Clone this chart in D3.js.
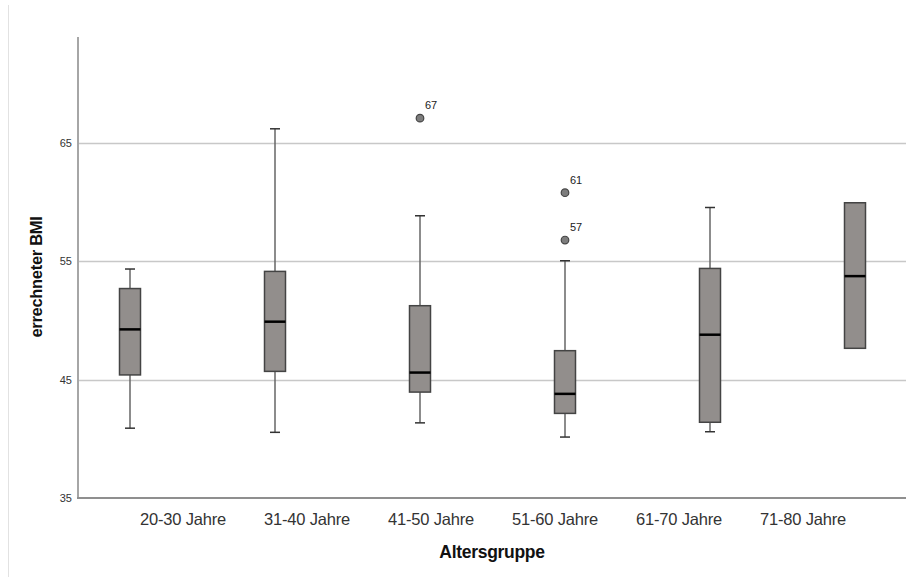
<!DOCTYPE html>
<html>
<head>
<meta charset="utf-8">
<script src="https://cdn.jsdelivr.net/npm/d3@7"></script>
<style>
  html, body { margin: 0; padding: 0; background: #fff; }
  text { font-family: "Liberation Sans", Arial, sans-serif; }
</style>
</head>
<body>
<svg id="chart" width="906" height="577"></svg>
<script>
// ---- data ----
const categories = ["20-30 Jahre", "31-40 Jahre", "41-50 Jahre", "51-60 Jahre", "61-70 Jahre", "71-80 Jahre"];
const whiskerLow  = [40.9, 40.55, 41.35, 40.15, 40.6, 47.65];
const q1          = [45.4, 45.7, 43.95, 42.15, 41.4, 47.65];
const medians     = [49.25, 49.9, 45.6, 43.8, 48.8, 53.75];
const q3          = [52.7, 54.15, 51.25, 47.45, 54.4, 59.95];
const whiskerHigh = [54.35, 66.2, 58.85, 55.05, 59.55, 59.95];
const outlierGroup = ["41-50 Jahre", "51-60 Jahre", "51-60 Jahre"];
const outlierValue = [67.1, 60.8, 56.8];
const outlierLabel = ["67", "61", "57"];
const yTicks = [35, 45, 55, 65];
const yTitle = "errechneter BMI";
const xTitle = "Altersgruppe";

// ---- layout ----
const svg = d3.select("#chart");
const axisLeft = 78, axisRight = 906, axisBottom = 498, axisTop = 37;

const y = d3.scaleLinear().domain([35, 65]).range([498, 143]);
const xBox = d3.scalePoint().domain(categories).range([130, 855]);
const xLab = d3.scalePoint().domain(categories).range([183, 803]);
const boxW = 21, capW = 10;

// left frame border
svg.append("line").attr("x1", 8.5).attr("x2", 8.5).attr("y1", 5).attr("y2", 577)
  .attr("stroke", "#e2e2e2").attr("stroke-width", 1);

// gridlines
svg.append("g").selectAll("line").data(yTicks.filter(d => d > 35)).join("line")
  .attr("x1", axisLeft).attr("x2", axisRight)
  .attr("y1", d => Math.round(y(d)) + 0.5).attr("y2", d => Math.round(y(d)) + 0.5)
  .attr("stroke", "#c8c8c8").attr("stroke-width", 1.5);

// y axis line
svg.append("line").attr("x1", axisLeft).attr("x2", axisLeft).attr("y1", axisTop).attr("y2", axisBottom + 1)
  .attr("stroke", "#a6a6a6").attr("stroke-width", 2);
// x axis line
svg.append("line").attr("x1", axisLeft - 1).attr("x2", axisRight).attr("y1", axisBottom).attr("y2", axisBottom)
  .attr("stroke", "#8f8f8f").attr("stroke-width", 2);

// y tick labels
svg.append("g").selectAll("text").data(yTicks).join("text")
  .attr("x", 72).attr("y", d => y(d) + 4)
  .attr("text-anchor", "end").attr("font-size", 11).attr("fill", "#333")
  .text(d => d);

// y title
svg.append("text")
  .attr("transform", `translate(42,277) rotate(-90)`)
  .attr("text-anchor", "middle").attr("font-size", 16.5).attr("font-weight", "bold")
  .attr("fill", "#111").attr("letter-spacing", -0.3)
  .text(yTitle);

// x tick labels
svg.append("g").selectAll("text").data(categories).join("text")
  .attr("x", d => xLab(d)).attr("y", 525)
  .attr("text-anchor", "middle").attr("font-size", 16.5).attr("fill", "#333")
  .attr("letter-spacing", -0.2)
  .text(d => d);

// x title
svg.append("text").attr("x", 492).attr("y", 558)
  .attr("text-anchor", "middle").attr("font-size", 17.5).attr("font-weight", "bold")
  .attr("fill", "#111").attr("letter-spacing", -0.3)
  .text(xTitle);

// boxes
const groups = categories.map((c, i) => ({
  c, lo: whiskerLow[i], q1: q1[i], med: medians[i], q3: q3[i], hi: whiskerHigh[i]
}));
const g = svg.append("g").selectAll("g").data(groups).join("g");

// whiskers
g.filter(d => d.hi > d.q3).append("line")
  .attr("x1", d => xBox(d.c)).attr("x2", d => xBox(d.c))
  .attr("y1", d => y(d.hi)).attr("y2", d => y(d.q3))
  .attr("stroke", "#666").attr("stroke-width", 1.5);
g.filter(d => d.lo < d.q1).append("line")
  .attr("x1", d => xBox(d.c)).attr("x2", d => xBox(d.c))
  .attr("y1", d => y(d.q1)).attr("y2", d => y(d.lo))
  .attr("stroke", "#666").attr("stroke-width", 1.5);
// caps
g.filter(d => d.hi > d.q3).append("line")
  .attr("x1", d => xBox(d.c) - capW / 2).attr("x2", d => xBox(d.c) + capW / 2)
  .attr("y1", d => y(d.hi)).attr("y2", d => y(d.hi))
  .attr("stroke", "#333").attr("stroke-width", 1.5);
g.filter(d => d.lo < d.q1).append("line")
  .attr("x1", d => xBox(d.c) - capW / 2).attr("x2", d => xBox(d.c) + capW / 2)
  .attr("y1", d => y(d.lo)).attr("y2", d => y(d.lo))
  .attr("stroke", "#333").attr("stroke-width", 1.5);
// box
g.append("rect")
  .attr("x", d => xBox(d.c) - boxW / 2).attr("width", boxW)
  .attr("y", d => y(d.q3)).attr("height", d => y(d.q1) - y(d.q3))
  .attr("fill", "#928e8c").attr("stroke", "#444").attr("stroke-width", 1.5);
// median
g.append("line")
  .attr("x1", d => xBox(d.c) - boxW / 2).attr("x2", d => xBox(d.c) + boxW / 2)
  .attr("y1", d => y(d.med)).attr("y2", d => y(d.med))
  .attr("stroke", "#000").attr("stroke-width", 2.5);

// outliers
const outliers = outlierValue.map((v, i) => ({ c: outlierGroup[i], v, label: outlierLabel[i] }));
const og = svg.append("g").selectAll("g").data(outliers).join("g");
og.append("circle")
  .attr("cx", d => xBox(d.c)).attr("cy", d => y(d.v)).attr("r", 3.8)
  .attr("fill", "#7d7d7d").attr("stroke", "#444").attr("stroke-width", 1.2);
og.append("text")
  .attr("x", d => xBox(d.c) + 5).attr("y", d => y(d.v) - 9)
  .attr("font-size", 11).attr("fill", "#222")
  .text(d => d.label);
</script>
</body>
</html>
